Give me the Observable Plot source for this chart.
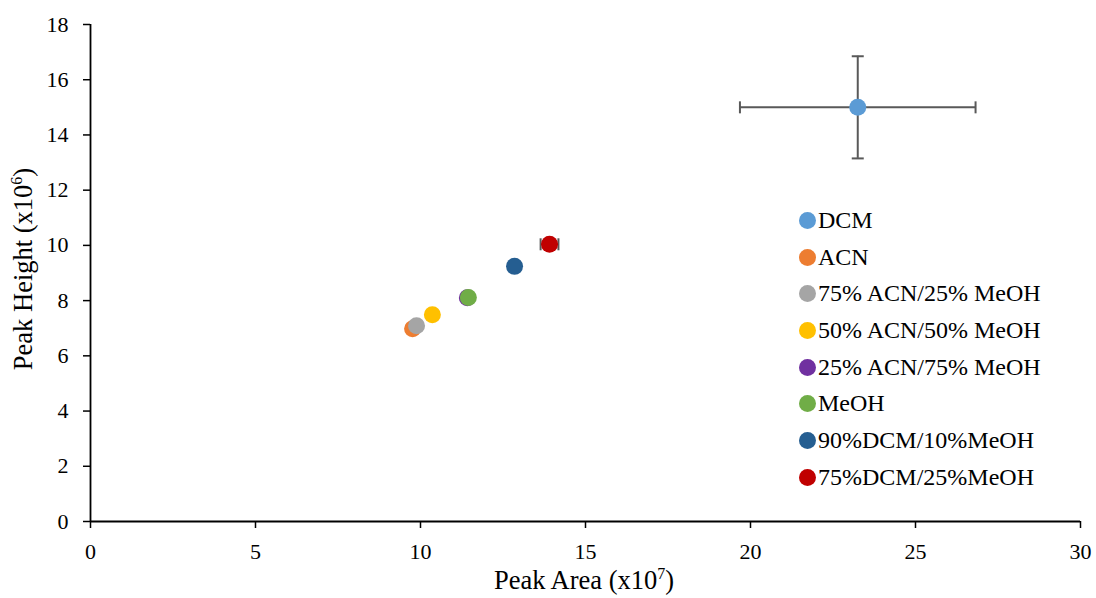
<!DOCTYPE html>
<html>
<head>
<meta charset="utf-8">
<script src="https://cdn.jsdelivr.net/npm/d3@7"></script>
<script src="https://cdn.jsdelivr.net/npm/@observablehq/plot@0.6"></script>
<style>
  html, body { margin: 0; padding: 0; background: #fff; }
  #wrap { position: relative; width: 1096px; height: 598px; font-family: "Liberation Serif", "Times New Roman", serif; }
  #legend { position: absolute; left: 799px; top: 202px; }
  .row { display: flex; align-items: center; height: 36.7px; font-size: 24px; color: #000; white-space: nowrap; }
  .sw { width: 17px; height: 17px; border-radius: 50%; margin-right: 2px; flex: none; }
</style>
</head>
<body>
<div id="wrap"></div>
<script>
const solvents = ["DCM", "ACN", "75% ACN/25% MeOH", "50% ACN/50% MeOH", "25% ACN/75% MeOH", "MeOH", "90%DCM/10%MeOH", "75%DCM/25%MeOH"];
const colors = ["#5b9bd5", "#ed7d31", "#a5a5a5", "#ffc000", "#7030a0", "#70ad47", "#255e91", "#c00000"];
const peakArea = [23.25, 9.76, 9.88, 10.36, 11.42, 11.45, 12.85, 13.91];
const peakHeight = [15.0, 6.98, 7.09, 7.49, 8.10, 8.11, 9.24, 10.04];
const areaErr = [3.57, 0, 0, 0, 0, 0, 0, 0.27];
const heightErr = [1.85, 0, 0, 0, 0, 0, 0, 0];
const xTicks = [0, 5, 10, 15, 20, 25, 30];
const yTicks = [0, 2, 4, 6, 8, 10, 12, 14, 16, 18];

const data = solvents.map((s, i) => ({s, x: peakArea[i], y: peakHeight[i], ex: areaErr[i], ey: heightErr[i]}));
const errX = data.filter(d => d.ex > 0);
const errY = data.filter(d => d.ey > 0);

const hCap = {draw(ctx, size) { const r = 6; ctx.moveTo(-r, 0); ctx.lineTo(r, 0); }};
const vCap = {draw(ctx, size) { const r = 6; ctx.moveTo(0, -r); ctx.lineTo(0, r); }};
const errColor = "#595959";
const serif = "Liberation Serif, Times New Roman, serif";

const plot = Plot.plot({
  width: 1096, height: 598,
  marginLeft: 90, marginRight: 16, marginTop: 24, marginBottom: 77,
  style: {fontFamily: serif, fontSize: "22px", color: "#000", background: "#fff"},
  x: {domain: [0, 30]},
  y: {domain: [0, 18]},
  color: {domain: solvents, range: colors},
  marks: [
    Plot.axisX({ticks: xTicks, tickSize: 7, tickPadding: 15, label: null, stroke: "#000", strokeWidth: 1.5}),
    Plot.axisY({ticks: yTicks, tickSize: 7, tickPadding: 15, label: null, stroke: "#000", strokeWidth: 1.5}),
    Plot.ruleY([0], {stroke: "#000", strokeWidth: 1.8}),
    Plot.ruleX([0], {stroke: "#000", strokeWidth: 1.8}),
    Plot.ruleY(errX, {y: "y", x1: d => d.x - d.ex, x2: d => d.x + d.ex, stroke: errColor, strokeWidth: 2}),
    Plot.ruleX(errY, {x: "x", y1: d => d.y - d.ey, y2: d => d.y + d.ey, stroke: errColor, strokeWidth: 2}),
    Plot.dot(errX, {x: d => d.x - d.ex, y: "y", symbol: vCap, stroke: errColor, strokeWidth: 2, fill: "none"}),
    Plot.dot(errX, {x: d => d.x + d.ex, y: "y", symbol: vCap, stroke: errColor, strokeWidth: 2, fill: "none"}),
    Plot.dot(errY, {x: "x", y: d => d.y - d.ey, symbol: hCap, stroke: errColor, strokeWidth: 2, fill: "none"}),
    Plot.dot(errY, {x: "x", y: d => d.y + d.ey, symbol: hCap, stroke: errColor, strokeWidth: 2, fill: "none"}),
    Plot.dot(data, {x: "x", y: "y", fill: "s", r: 8.5, stroke: null})
  ]
});

const svg = d3.select(plot);
const xl = svg.append("text").attr("x", 584).attr("y", 589).attr("text-anchor", "middle")
  .attr("font-size", 26.5).attr("fill", "#000").attr("font-family", serif);
xl.append("tspan").text("Peak Area (x10");
xl.append("tspan").attr("dy", -10).attr("font-size", 16).text("7");
xl.append("tspan").attr("dy", 10).text(")");

const yl = svg.append("text").attr("transform", "translate(32,269) rotate(-90)").attr("text-anchor", "middle")
  .attr("font-size", 26.5).attr("fill", "#000").attr("font-family", serif);
yl.append("tspan").text("Peak Height (x10");
yl.append("tspan").attr("dy", -10).attr("font-size", 16).text("6");
yl.append("tspan").attr("dy", 10).text(")");

const wrap = document.getElementById("wrap");
wrap.appendChild(plot);
const legend = document.createElement("div");
legend.id = "legend";
solvents.forEach((s, i) => {
  const row = document.createElement("div");
  row.className = "row";
  const sw = document.createElement("span");
  sw.className = "sw";
  sw.style.background = colors[i];
  const t = document.createElement("span");
  t.textContent = s;
  row.appendChild(sw); row.appendChild(t);
  legend.appendChild(row);
});
wrap.appendChild(legend);
</script>
</body>
</html>
